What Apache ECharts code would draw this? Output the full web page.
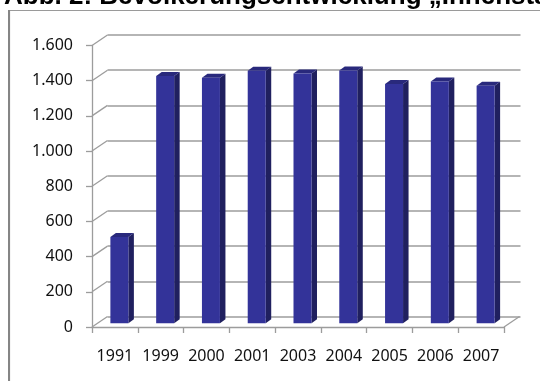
<!DOCTYPE html>
<html>
<head>
<meta charset="utf-8">
<script src="https://cdn.jsdelivr.net/npm/echarts@6/dist/echarts.min.js"></script>
<style>
  html, body { margin: 0; padding: 0; background: #fff; }
  #chart { width: 540px; height: 381px; }
</style>
</head>
<body>
<div id="chart"></div>
<script>
// Einwohnerzahlen je Jahr
const categories = ['1991', '1999', '2000', '2001', '2003', '2004', '2005', '2006', '2007'];
const population = [490, 1405, 1395, 1435, 1420, 1437, 1360, 1375, 1350];
const yTicks = [0, 200, 400, 600, 800, 1000, 1200, 1400, 1600];

// oblique offset between the front axis plane and the back wall
const DEPTH_X = 15.5;
const DEPTH_Y = -10.5;
// bars stand part-way into the depth
const BAR_SHIFT_X = 4.5;
const BAR_SHIFT_Y = -3.7;
const BAR_W = 18;
const BAR_DX = 5.5;
const BAR_DY = -4;

const GRID_LINE = '#9c9c9c';
const LABEL_FONT = '"Noto Sans", "DejaVu Sans", sans-serif';

function fmtDe(v) {
  if (v >= 1000) {
    return Math.floor(v / 1000) + '.' + String(v % 1000).padStart(3, '0');
  }
  return String(v);
}

function renderBar(params, api) {
  const i = api.value(0);
  const v = api.value(1);
  const base = api.coord([i, 0]);
  const top = api.coord([i, v]);
  const cx = base[0] + BAR_SHIFT_X;
  const x0 = cx - BAR_W / 2;
  const x1 = cx + BAR_W / 2;
  const yb = base[1] + BAR_SHIFT_Y;
  const yt = top[1] + BAR_SHIFT_Y;
  return {
    type: 'group',
    children: [
      { type: 'polygon',
        shape: { points: [[x1, yt], [x1 + BAR_DX, yt + BAR_DY], [x1 + BAR_DX, yb + BAR_DY], [x1, yb]] },
        style: { fill: '#20205f' } },
      { type: 'polygon',
        shape: { points: [[x0, yt], [x0 + BAR_DX, yt + BAR_DY], [x1 + BAR_DX, yt + BAR_DY], [x1, yt]] },
        style: { fill: '#29297c' } },
      { type: 'rect',
        shape: { x: x0, y: yt, width: BAR_W, height: yb - yt },
        style: { fill: '#333399' } }
    ]
  };
}

// connectors from the front value ticks to the back wall gridlines
function renderConnector(params, api) {
  const p = api.coord([0, api.value(1)]);
  const x = params.coordSys.x;
  return {
    type: 'line',
    shape: { x1: x, y1: p[1], x2: x + DEPTH_X, y2: p[1] + DEPTH_Y },
    style: { stroke: GRID_LINE, lineWidth: 1.3 }
  };
}

// right edge of the floor
function renderFloorEdge(params, api) {
  const p = api.coord([0, 0]);
  const x = params.coordSys.x + params.coordSys.width;
  return {
    type: 'line',
    shape: { x1: x, y1: p[1], x2: x + DEPTH_X, y2: p[1] + DEPTH_Y },
    style: { stroke: GRID_LINE, lineWidth: 1.3 }
  };
}

const chart = echarts.init(document.getElementById('chart'), null, { renderer: 'canvas' });

chart.setOption({
  animation: false,
  backgroundColor: '#ffffff',
  graphic: [
    { type: 'rect', z: 0,
      shape: { x: 9.5, y: 10.5, width: 600, height: 420 },
      style: { fill: 'none', stroke: '#9a9a9a', lineWidth: 1.2 } },
    { type: 'line', z: 0,
      shape: { x1: 9, y1: 10, x2: 9, y2: 400 },
      style: { stroke: '#858585', lineWidth: 2 } },
    { type: 'text', z: 10,
      style: {
        x: 4, y: -3,
        text: 'Abb. 2: Bevölkerungsentwicklung „Innenstadt“',
        font: 'bold 26px "Liberation Sans", Arial, sans-serif',
        fill: '#000000',
        verticalAlign: 'middle'
      } }
  ],
  grid: [
    // front plane: value axis and category axis
    { left: 92, top: 45.5, width: 412, height: 281.5 },
    // back wall: gridlines
    { left: 92 + DEPTH_X, top: 45.5 + DEPTH_Y, width: 412 + 1, height: 281.5 }
  ],
  xAxis: [
    { type: 'category', gridIndex: 0, data: categories,
      axisLine: { show: true, lineStyle: { color: GRID_LINE, width: 1.3 } },
      axisTick: { show: true, length: 6, alignWithLabel: false, lineStyle: { color: GRID_LINE, width: 1.3 } },
      axisLabel: { interval: 0, hideOverlap: false, margin: 21, fontFamily: LABEL_FONT, fontSize: 16, color: '#111111' } },
    { type: 'category', gridIndex: 1, data: categories, show: false }
  ],
  yAxis: [
    { type: 'value', gridIndex: 0, min: 0, max: 1600, interval: 200,
      axisLine: { show: true, lineStyle: { color: GRID_LINE, width: 1.3 } },
      axisTick: { show: true, length: 6, lineStyle: { color: GRID_LINE, width: 1.3 } },
      splitLine: { show: false },
      axisLabel: { margin: 19, fontFamily: LABEL_FONT, fontSize: 16, color: '#111111', formatter: fmtDe } },
    { type: 'value', gridIndex: 1, min: 0, max: 1600, interval: 200,
      axisLine: { show: false }, axisTick: { show: false }, axisLabel: { show: false },
      splitLine: { show: true, lineStyle: { color: GRID_LINE, width: 1.6 } } }
  ],
  series: [
    { type: 'custom', xAxisIndex: 0, yAxisIndex: 0, z: 1,
      renderItem: renderConnector,
      data: yTicks.map(v => [0, v]), encode: { x: 0, y: 1 }, silent: true },
    { type: 'custom', xAxisIndex: 0, yAxisIndex: 0, z: 1,
      renderItem: renderFloorEdge,
      data: [[categories.length - 1, 0]], encode: { x: 0, y: 1 }, silent: true },
    { type: 'custom', xAxisIndex: 0, yAxisIndex: 0, z: 5,
      renderItem: renderBar,
      data: population.map((v, i) => [i, v]), encode: { x: 0, y: 1 } }
  ]
});
</script>
</body>
</html>
